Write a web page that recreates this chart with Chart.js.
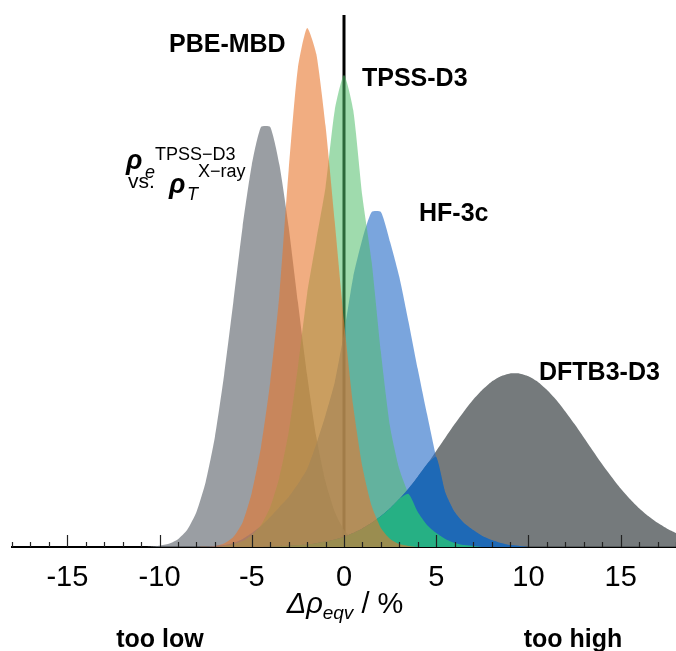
<!DOCTYPE html>
<html><head><meta charset="utf-8">
<script src="https://cdn.jsdelivr.net/npm/chart.js@4.4.1/dist/chart.umd.min.js"></script>
<style>html,body{margin:0;padding:0;background:#fff;}#wrap{width:676px;height:651px;}</style>
</head><body><div id="wrap"><canvas id="c" width="676" height="651"></canvas></div>
<script>
// x grid (Δρ_eqv in %)
const xValues = [-18,-17.5,-17,-16.5,-16,-15.5,-15,-14.5,-14,-13.5,-13,-12.5,-12,-11.5,-11,-10.5,-10,-9.5,-9,-8.5,-8,-7.5,-7,-6.5,-6,-5.5,-5,-4.5,-4,-3.5,-3,-2.5,-2,-1.5,-1,-0.5,0,0.5,1,1.5,2,2.5,3,3.5,4,4.5,5,5.5,6,6.5,7,7.5,8,8.5,9,9.5,10,10.5,11,11.5,12,12.5,13,13.5,14,14.5,15,15.5,16,16.5,17,17.5,18];
// densities (per %)
const tpssVsXray = [0,0,0,0,0,0,0,0,0,0,0,0,0,0,0,
 0.0002,0.0007,0.0018,0.0044,0.0098,0.0200,0.0371,0.0629,0.0983,0.1400,0.1829,0.2183,0.2400,0.2400,0.2183,0.1829,0.1400,0.0983,0.0629,0.0371,0.0200,0.0097,0.0044,0.0018,0.0007,0.0002,
 0,0,0,0,0,0,0,0,0,0,0,0,0,0,0,0,0,0,0,0,0,0,0,0,0,0,0,0,0,0,0,0];
const pbeMbd = [0,0,0,0,0,0,0,0,0,0,0,0,0,0,0,0,0,0,0,0,0,
 0.0001,0.0006,0.0020,0.0057,0.0140,0.0310,0.0571,0.0943,0.1446,0.2154,0.2737,0.2966,0.2817,0.2406,0.1857,0.1291,0.0806,0.0457,0.0234,0.0109,0.0046,0.0017,0.0006,
 0,0,0,0,0,0,0,0,0,0,0,0,0,0,0,0,0,0,0,0,0,0,0,0,0,0,0,0,0];
const tpssD3 = [0,0,0,0,0,0,0,0,0,0,0,0,0,0,0,0,0,0,0,0,0,0,0,
 0.0006,0.0017,0.0034,0.0069,0.0126,0.0229,0.0400,0.0657,0.1029,0.1446,0.1754,0.2057,0.2497,0.2697,0.2497,0.2000,0.1629,0.1114,0.0686,0.0446,0.0303,0.0200,0.0126,0.0080,0.0046,0.0023,0.0011,0.0006,
 0,0,0,0,0,0,0,0,0,0,0,0,0,0,0,0,0,0,0,0,0,0];
const hf3c = [0,0,0,0,0,0,0,0,0,0,0,0,0,0,0,0,0,0,0,0,0,0,
 0.0006,0.0011,0.0023,0.0046,0.0080,0.0120,0.0171,0.0229,0.0286,0.0360,0.0446,0.0589,0.0754,0.0943,0.1223,0.1543,0.1760,0.1914,0.1914,0.1743,0.1543,0.1286,0.1017,0.0760,0.0514,0.0309,0.0200,0.0137,0.0097,0.0063,0.0040,0.0023,0.0011,0.0006,
 0,0,0,0,0,0,0,0,0,0,0,0,0,0,0,0,0];
const dftb3D3 = [0,0,0,0,0,0,0,0,0,0,0,0,0,0,0,0,0,0,0,0,0,0,0,0,0,0,0,0,
 0.0003,0.0005,0.0007,0.0011,0.0015,0.0022,0.0031,0.0043,0.0059,0.0080,0.0106,0.0138,0.0177,0.0222,0.0275,0.0335,0.0402,0.0473,0.0549,0.0626,0.0703,0.0775,0.0842,0.0899,0.0945,0.0976,0.0992,0.0992,0.0976,0.0945,0.0899,0.0842,0.0775,0.0703,0.0626,0.0549,0.0473,0.0402,0.0335,0.0275,0.0222,0.0177,0.0138,0.0106,0.0080];
const xTickStep = 5;
const yMax = 0.304;

// overlap of the HF-3c / TPSS-D3 curves with the DFTB3-D3 curve (drawn in the saturated overlap tint)
const hf3cOnDftb = hf3c.map((v, i) => Math.min(v, dftb3D3[i]));
const tpssOnDftb = tpssD3.map((v, i) => Math.min(v, dftb3D3[i]));

const pts = ys => xValues.map((x, i) => ({x: x, y: ys[i]}));
const area = (label, ys, color, order) => ({label, data: pts(ys), backgroundColor: color, borderWidth: 0, fill: 'origin', pointRadius: 0, tension: 0.2, order});

const deco = {
  id: 'deco',
  afterDraw(chart) {
    const {ctx, chartArea: a, scales: {x}} = chart;
    ctx.save();
    ctx.strokeStyle = '#222'; ctx.lineWidth = 1.2;
    for (let v = -18; v <= 18; v++) {
      const px = Math.round(x.getPixelForValue(v)) + 0.5;
      const len = v % 5 === 0 ? 12 : 5;
      ctx.beginPath(); ctx.moveTo(px, a.bottom); ctx.lineTo(px, a.bottom - len); ctx.stroke();
    }
    ctx.fillStyle = '#000';
    ctx.textBaseline = 'alphabetic';
    const F = 'Liberation Sans, Arial, sans-serif';
    const txt = (t, font, px, py, align) => { ctx.font = font; ctx.textAlign = align || 'left'; ctx.fillText(t, px, py); };
    txt('PBE-MBD', 'bold 25px ' + F, 169, 52);
    txt('TPSS-D3', 'bold 25px ' + F, 362, 86);
    txt('HF-3c', 'bold 25px ' + F, 419, 221);
    txt('DFTB3-D3', 'bold 25px ' + F, 539, 380);
    // rho annotation
    txt('ρ', 'italic bold 27px ' + F, 126, 169);
    txt('e', 'italic 18px ' + F, 145, 178);
    txt('TPSS\u2212D3', '18px ' + F, 155, 160);
    txt('vs.', '21px ' + F, 128, 188);
    txt('ρ', 'italic bold 27px ' + F, 169, 193);
    txt('T', 'italic 18px ' + F, 187, 200);
    txt('X\u2212ray', '18px ' + F, 198, 177);
    // axis title
    const runs = [['Δρ', 'italic 29px ' + F, 0], ['eqv', 'italic 19px ' + F, 6], [' / %', '29px ' + F, 0]];
    let w = 0; runs.forEach(r => { ctx.font = r[1]; w += ctx.measureText(r[0]).width; });
    let cx = x.getPixelForValue(0) - w / 2 + 1;
    runs.forEach(r => { ctx.font = r[1]; ctx.textAlign = 'left'; ctx.fillText(r[0], cx, 613 + r[2]); cx += ctx.measureText(r[0]).width; });
    txt('too low', 'bold 25px ' + F, 160, 647, 'center');
    txt('too high', 'bold 25px ' + F, 573, 647, 'center');
    ctx.restore();
  }
};

new Chart(document.getElementById('c'), {
  type: 'line',
  data: {
    datasets: [
      area('PBE-MBD', pbeMbd, 'rgba(232,118,45,0.6)', 0),
      area('TPSS-D3 on DFTB3-D3', tpssOnDftb, 'rgb(38,176,132)', 1),
      area('HF-3c on DFTB3-D3', hf3cOnDftb, 'rgb(30,105,182)', 2),
      area('TPSS-D3', tpssD3, 'rgba(80,190,105,0.55)', 3),
      area('HF-3c', hf3c, 'rgba(40,110,200,0.62)', 4),
      area('DFTB3-D3', dftb3D3, 'rgba(98,104,106,0.88)', 5),
      area('TPSS-D3 vs X-ray', tpssVsXray, 'rgba(125,131,137,0.78)', 6),
      {label: 'zero', data: [{x: 0, y: 0}, {x: 0, y: yMax}], borderColor: '#000', borderWidth: 3, fill: false, pointRadius: 0, order: 7}
    ]
  },
  options: {
    responsive: false, animation: false, devicePixelRatio: 1,
    layout: {padding: {left: 12, right: 0, top: 15, bottom: 0}},
    plugins: {legend: {display: false}, tooltip: {enabled: false}},
    scales: {
      x: {type: 'linear', min: -18, max: 18, z: 1,
        grid: {display: false, drawTicks: false},
        border: {display: true, color: '#000', width: 2},
        ticks: {stepSize: xTickStep, includeBounds: false, color: '#000', padding: 14, maxRotation: 0, autoSkip: false,
          font: {family: 'Liberation Sans Narrow, Liberation Sans, Arial, sans-serif', size: 29}},
        afterFit(s) { s.height = 104; }
      },
      y: {display: false, min: 0, max: yMax}
    }
  },
  plugins: [deco]
});
</script></body></html>
